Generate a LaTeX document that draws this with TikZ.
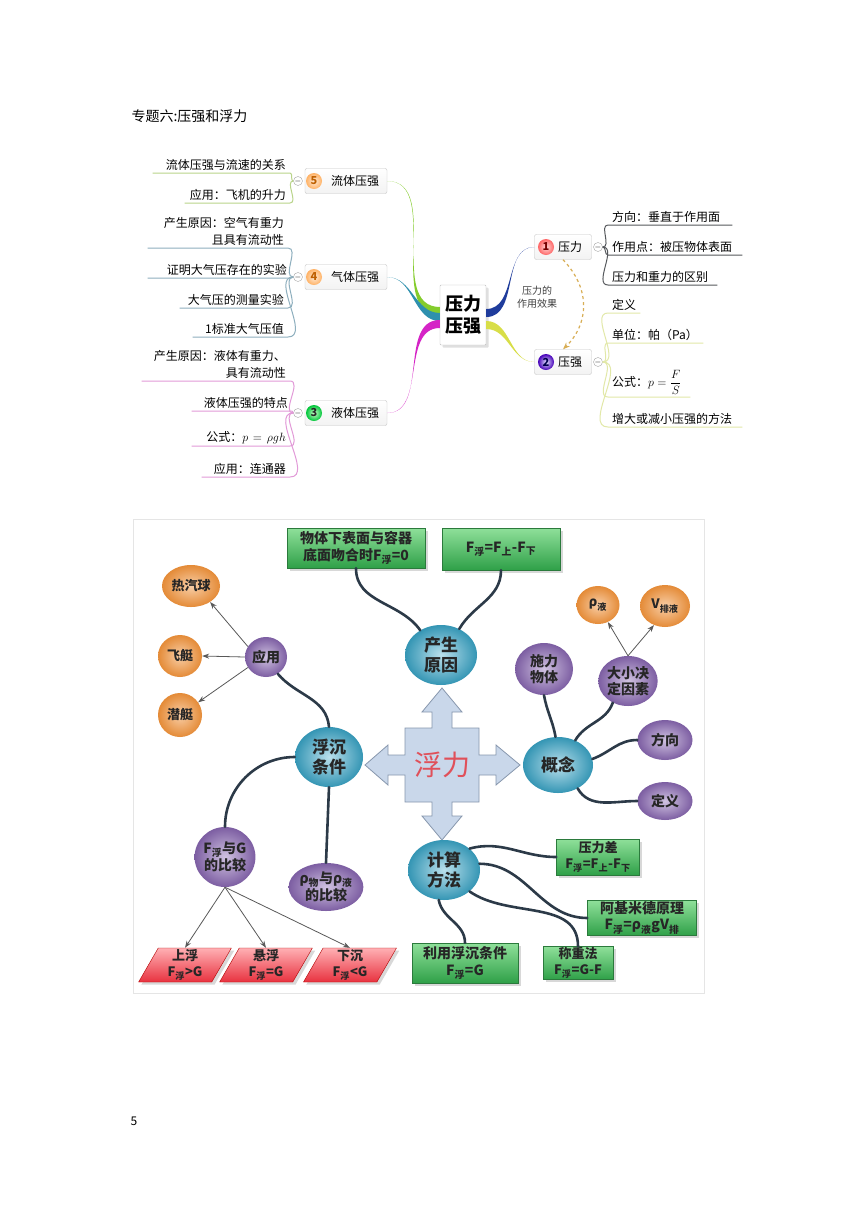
\documentclass[tikz,border=0pt]{standalone}
\usepackage{fontspec}
\setmainfont{Noto Sans CJK SC}
\usetikzlibrary{shapes.geometric,shadows,arrows.meta,positioning}

\definecolor{seedc}{HTML}{3AA6C8}
\definecolor{twigc}{HTML}{8A68B4}
\definecolor{fruitc}{HTML}{F0923A}
\definecolor{cardtop}{HTML}{8FE09A}
\definecolor{cardbot}{HTML}{2FA048}
\definecolor{cardrim}{HTML}{2B7A3C}
\definecolor{flagtop}{HTML}{FFB0B4}
\definecolor{flagbot}{HTML}{E8323F}
\definecolor{crossfill}{HTML}{C9D7EA}
\definecolor{crossrim}{HTML}{8797AD}
\definecolor{floatred}{HTML}{E0505A}
\definecolor{ink}{HTML}{2C3A48}
\definecolor{armblue}{HTML}{1F3C9C}
\definecolor{armyellow}{HTML}{D8DE48}
\definecolor{armgreen}{HTML}{84CC2C}
\definecolor{armteal}{HTML}{2E90AE}
\definecolor{armpink}{HTML}{D524C6}
\definecolor{rimgreen}{HTML}{B9D48A}
\definecolor{rimteal}{HTML}{8EAFBE}
\definecolor{rimpink}{HTML}{E29AD8}
\definecolor{rimgray}{HTML}{55585C}
\definecolor{rimyellow}{HTML}{E2E8A8}
\definecolor{effect}{HTML}{D8AE55}

% small index after a letter, e.g. F with 浮
\newcommand\fsub[1]{\textsubscript{#1}}
% tapered main branch: colour, start, end, out, in
\newcommand\branch[5]{\fill[#1] ([yshift=4pt]#2) to[out=#4,in=#5] (#3) to[out=#5,in=#4] ([yshift=-4pt]#2) -- cycle;}

\tikzset{
  hub/.style={draw=gray!50, fill=white, drop shadow={opacity=0.25}, rounded corners=1pt,
    font=\fontsize{18}{22}\selectfont\bfseries, align=center, minimum width=46pt, minimum height=60pt},
  topic/.style={draw=gray!45, top color=white, bottom color=gray!10, rounded corners=2pt,
    minimum height=25pt, inner sep=0pt, font=\fontsize{12}{14}\selectfont},
  numball/.style={circle, inner sep=0pt, minimum size=16pt, shading=radial, font=\fontsize{11}{11}\selectfont\bfseries},
  fold/.style={circle, draw=gray!70, fill=white, inner sep=0pt, minimum size=9pt, font=\fontsize{8}{8}\selectfont},
  leaf/.style={inner xsep=4pt, inner ysep=2pt, font=\fontsize{12}{17}\selectfont},
  leafL/.style={leaf, anchor=south east, align=right},
  leafR/.style={leaf, anchor=south west, align=left},
  rim/.style={line width=1pt},
  seed/.style={ellipse, shading=radial, inner color=seedc!35!white, outer color=seedc!90!black,
    inner sep=0pt, align=center, text=black!85, font=\fontsize{17}{20}\selectfont\bfseries},
  twig/.style={ellipse, shading=radial, inner color=twigc!40!white, outer color=twigc!90!black,
    inner sep=0pt, align=center, text=black!85, font=\fontsize{14}{16}\selectfont\bfseries},
  fruit/.style={ellipse, shading=radial, inner color=fruitc!45!white, outer color=fruitc!95!black,
    inner sep=0pt, align=center, text=black!85, font=\fontsize{13}{15}\selectfont\bfseries},
  card/.style={draw=cardrim, top color=cardtop, bottom color=cardbot, inner sep=0pt, align=center,
    drop shadow={opacity=0.3}, text=black!85, font=\fontsize{14}{17}\selectfont\bfseries},
  flag/.style={trapezium, trapezium left angle=60, trapezium right angle=120,
    draw=red!70!black, top color=flagtop, bottom color=flagbot, inner xsep=9pt, inner ysep=1pt, align=center,
    minimum height=34pt, drop shadow={opacity=0.3}, text=black!85,
    font=\fontsize{13}{16}\selectfont\bfseries},
  link/.style={draw=ink, line width=2.6pt, line cap=round},
  pointer/.style={draw=gray!70!black, line width=0.8pt, -{Stealth[length=7pt,width=5pt]}}
}

\begin{document}
\begin{tikzpicture}[x=1pt,y=-1pt]
  \useasboundingbox[fill=white] (0,0) rectangle (860,1216);

  \node[anchor=west, font=\fontsize{14}{16}\selectfont] (title) at (128,116) {专题六:压强和浮力};
  \node[font=\fontsize{12}{14}\selectfont] (page) at (134,1121) {5};

  % pressure map
  \node[hub] (hub) at (463,315) {压力\\压强};

  \node[topic, minimum width=57pt] (t1) at (563,247) {\hspace*{14pt}压力};
  \node[numball, inner color=red!15, outer color=red!60, text=red!45!black] (n1) at (546,247) {1};
  \node[topic, minimum width=57pt] (t2) at (563,362) {\hspace*{14pt}压强};
  \node[numball, inner color=blue!10, outer color=violet!55!blue, text=blue!30!black] (n2) at (546,362) {2};
  \node[topic, minimum width=82pt] (t5) at (346,181) {\hspace*{18pt}流体压强};
  \node[numball, inner color=orange!15, outer color=orange!60, text=orange!75!black] (n5) at (314,181) {5};
  \node[topic, minimum width=82pt] (t4) at (346,277) {\hspace*{18pt}气体压强};
  \node[numball, inner color=orange!15, outer color=orange!60, text=orange!75!black] (n4) at (314,277) {4};
  \node[topic, minimum width=82pt] (t3) at (346,413) {\hspace*{18pt}液体压强};
  \node[numball, inner color=green!20, outer color=green!55!teal, text=black!85] (n3) at (314,413) {3};

  \coordinate (h1) at ([yshift=2pt]hub.east);
  \coordinate (h2) at ([yshift=-10pt]hub.east);
  \coordinate (h5) at ([yshift=4pt]hub.west);
  \coordinate (h4) at ([yshift=-2pt]hub.west);
  \coordinate (h3) at ([yshift=-9pt]hub.west);
  \branch{armblue}{h1}{t1.west}{0}{180}
  \branch{armyellow}{h2}{t2.west}{0}{180}
  \branch{armgreen}{h5}{t5.east}{180}{0}
  \branch{armteal}{h4}{t4.east}{180}{0}
  \branch{armpink}{h3}{t3.east}{180}{0}

  \draw[effect, line width=1.2pt, dashed, -{Stealth[length=7pt]}] (t1.south) .. controls (592,290) and (588,325) .. (t2.north);
  \node[font=\fontsize{10}{13}\selectfont, align=center, text=black!75] (effect) at (537,297) {压力的\\作用效果};

  \node[fold] (f1) at (598,247) {$-$};
  \node[fold] (f2) at (598,362) {$-$};
  \node[fold] (f5) at (298,181) {$-$};
  \node[fold] (f4) at (298,277) {$-$};
  \node[fold] (f3) at (298,413) {$-$};

  \node[leafR, text width=116pt] (a1) at (608,225) {方向：垂直于作用面};
  \node[leafR, text width=126pt] (a2) at (608,255) {作用点：被压物体表面};
  \node[leafR, text width=101pt] (a3) at (608,285) {压力和重力的区别};
  \foreach \leafname in {a1,a2,a3}
    \draw[rim, rimgray] (f1.east) to[out=0,in=180] (\leafname.south west) -- (\leafname.south east);

  \node[leafR, text width=24pt] (b1) at (608,313) {定义};
  \node[leafR, text width=87pt] (b2) at (608,343) {单位：帕（Pa）};
  \node[leafR, text width=74pt] (b3) at (608,397) {公式：$\displaystyle p=\frac{F}{S}$};
  \node[leafR, text width=126pt] (b4) at (608,427) {增大或减小压强的方法};
  \foreach \leafname in {b1,b2,b3,b4}
    \draw[rim, rimyellow] (f2.east) to[out=0,in=180] (\leafname.south west) -- (\leafname.south east);

  \node[leafL, text width=129pt] (c1) at (290,173) {流体压强与流速的关系};
  \node[leafL, text width=97pt] (c2) at (290,203) {应用：飞机的升力};
  \foreach \leafname in {c1,c2}
    \draw[rim, rimgreen] (f5.west) to[out=180,in=0] (\leafname.south east) -- (\leafname.south west);

  \node[leafL, text width=132pt] (d1) at (288,248) {产生原因：空气有重力\\且具有流动性};
  \node[leafL, text width=135pt] (d2) at (291,278) {证明大气压存在的实验};
  \node[leafL, text width=100pt] (d3) at (288,308) {大气压的测量实验};
  \node[leafL, text width=87pt] (d4) at (288,337) {1标准大气压值};
  \foreach \leafname in {d1,d2,d3,d4}
    \draw[rim, rimteal] (f4.west) to[out=180,in=0] (\leafname.south east) -- (\leafname.south west);

  \node[leafL, text width=140pt] (e1) at (290,381) {产生原因：液体有重力、\\具有流动性};
  \node[leafL, text width=92pt] (e2) at (292,411) {液体压强的特点};
  \node[leafL, text width=90pt] (e3) at (290,446) {公式：$p=\rho gh$};
  \node[leafL, text width=80pt] (e4) at (290,477) {应用：连通器};
  \foreach \leafname in {e1,e2,e3,e4}
    \draw[rim, rimpink] (f3.west) to[out=180,in=0] (\leafname.south east) -- (\leafname.south west);

  % buoyancy map
  \draw[gray!20] (133,519) rectangle (704,993);

  \draw[draw=crossrim, fill=crossfill, line width=0.8pt]
    (442,688) -- (462,712) -- (452,712) -- (452,728) -- (479,728) -- (479,755) -- (496,755)
    -- (496,745) -- (520,765) -- (496,785) -- (496,775) -- (479,775) -- (479,802) -- (452,802)
    -- (452,816) -- (462,816) -- (442,840) -- (422,816) -- (432,816) -- (432,802) -- (405,802)
    -- (405,775) -- (388,775) -- (388,785) -- (365,765) -- (388,745) -- (388,755) -- (405,755)
    -- (405,728) -- (432,728) -- (432,712) -- (422,712) -- cycle;
  \node[font=\fontsize{28}{30}\selectfont, text=floatred] (buoy) at (442,765) {浮力};

  \node[seed, minimum width=72pt, minimum height=60pt] (cause) at (441,655) {产生\\原因};
  \node[card, minimum width=138pt, minimum height=40pt] (flush) at (356,548) {物体下表面与容器\\底面吻合时F\fsub{浮}=0};
  \node[card, minimum width=118pt, minimum height=42pt] (updown) at (501,549) {F\fsub{浮}=F\fsub{上}-F\fsub{下}};

  \node[twig, minimum width=42pt, minimum height=40pt] (use) at (266,657) {应用};
  \node[fruit, minimum width=58pt, minimum height=42pt] (balloon) at (191,586) {热汽球};
  \node[fruit, minimum width=44pt, minimum height=42pt] (airship) at (180,656) {飞艇};
  \node[fruit, minimum width=44pt, minimum height=44pt] (submarine) at (180,715) {潜艇};

  \node[seed, minimum width=68pt, minimum height=60pt] (sink) at (329,757) {浮沉\\条件};
  \node[twig, minimum width=60pt, minimum height=60pt] (cmpG) at (225,857) {F\fsub{浮}与G\\的比较};
  \node[twig, minimum width=68pt, minimum height=48pt] (cmpRho) at (326,887) {ρ\fsub{物}与ρ\fsub{液}\\的比较};
  \node[flag] (rise) at (185,965) {上浮\\F\fsub{浮}>G};
  \node[flag] (hang) at (266,965) {悬浮\\F\fsub{浮}=G};
  \node[flag] (drop) at (350,965) {下沉\\F\fsub{浮}<G};

  \node[seed, minimum width=70pt, minimum height=56pt] (idea) at (558,765) {概念};
  \node[twig, minimum width=58pt, minimum height=52pt] (giver) at (544,669) {施力\\物体};
  \node[twig, minimum width=58pt, minimum height=50pt] (size) at (628,681) {大小决\\定因素};
  \node[fruit, minimum width=43pt, minimum height=38pt] (rho) at (598,605) {ρ\fsub{液}};
  \node[fruit, minimum width=50pt, minimum height=42pt] (vol) at (665,606) {V\fsub{排液}};
  \node[twig, minimum width=55pt, minimum height=40pt] (dir) at (665,740) {方向};
  \node[twig, minimum width=55pt, minimum height=38pt] (defn) at (665,801) {定义};

  \node[seed, minimum width=72pt, minimum height=60pt] (calc) at (444,870) {计算\\方法};
  \node[card, minimum width=83pt, minimum height=36pt, font=\fontsize{13}{16}\selectfont\bfseries] (press) at (598,857) {压力差\\F\fsub{浮}=F\fsub{上}-F\fsub{下}};
  \node[card, minimum width=109pt, minimum height=35pt, font=\fontsize{14}{16}\selectfont\bfseries] (arch) at (642,918) {阿基米德原理\\F\fsub{浮}=ρ\fsub{液}gV\fsub{排}};
  \node[card, minimum width=106pt, minimum height=40pt, font=\fontsize{14}{17}\selectfont\bfseries] (floatc) at (465,963) {利用浮沉条件\\F\fsub{浮}=G};
  \node[card, minimum width=70pt, minimum height=33pt, font=\fontsize{13}{16}\selectfont\bfseries] (weigh) at (578,963) {称重法\\F\fsub{浮}=G-F};

  \draw[link] (flush.south) to[out=-90,in=125] (cause.130);
  \draw[link] (updown.south) to[out=-90,in=60] (cause.55);
  \draw[link] (use.-55) to[out=-50,in=95] (sink.north);
  \draw[link] (sink.west) to[out=180,in=90] (cmpG.north);
  \draw[link] (sink.south) -- (cmpRho.north);
  \draw[link] (giver.south) to[out=-80,in=100] (idea.95);
  \draw[link] (size.-125) to[out=-110,in=60] (idea.55);
  \draw[link] (dir.west) to[out=180,in=20] (idea.10);
  \draw[link] (defn.west) to[out=180,in=-60] (idea.-50);
  \draw[link] (calc.40) to[out=15,in=180] (press.west);
  \draw[link] (calc.10) to[out=0,in=180] (arch.west);
  \draw[link] (calc.-100) to[out=-80,in=90] (floatc.north);
  \draw[link] (calc.-40) to[out=-35,in=90] (weigh.north);

  \draw[pointer] (use.150) -- (balloon.-40);
  \draw[pointer] (use.west) -- (airship.east);
  \draw[pointer] (use.-150) -- (submarine.35);
  \draw[pointer] (size.north) -- (rho.-60);
  \draw[pointer] (size.north) -- (vol.-120);
  \draw[pointer] (cmpG.south) -- (rise.north);
  \draw[pointer] (cmpG.south) -- (hang.north);
  \draw[pointer] (cmpG.south) -- (drop.north);
\end{tikzpicture}
\end{document}
